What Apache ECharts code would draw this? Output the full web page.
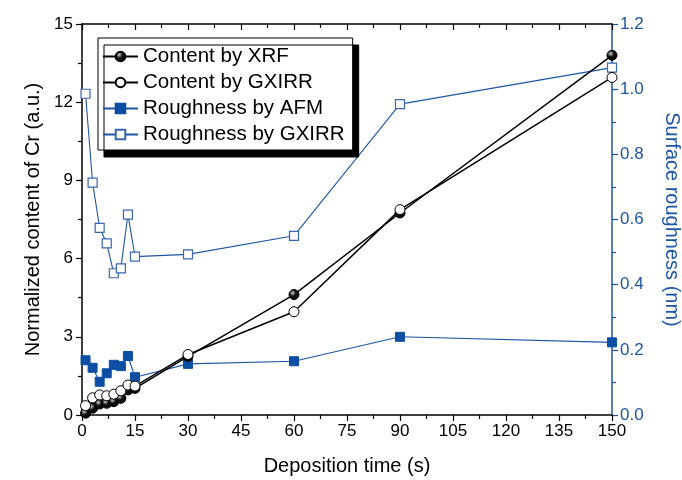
<!DOCTYPE html>
<html>
<head>
<meta charset="utf-8">
<script src="https://cdn.jsdelivr.net/npm/echarts@6/dist/echarts.min.js"></script>
<style>
  html, body { margin: 0; padding: 0; background: #fff; }
  #chart { width: 682px; height: 480px; }
</style>
</head>
<body>
<div id="chart"></div>
<script>
// Deposition times (s)
const times = [1, 3, 5, 7, 9, 11, 13, 15, 30, 60, 90, 150];
// Normalized Cr content (a.u.)
const contentXRF   = [0.07, 0.26, 0.42, 0.45, 0.51, 0.64, 0.96, 1.02, 2.25, 4.62, 7.75, 13.80];
const contentGXIRR = [0.36, 0.66, 0.77, 0.74, 0.80, 0.93, 1.15, 1.11, 2.32, 3.96, 7.88, 12.95];
// Surface roughness (nm)
const roughAFM   = [0.168, 0.145, 0.102, 0.128, 0.154, 0.150, 0.181, 0.116, 0.157, 0.165, 0.240, 0.223];
const roughGXIRR = [0.986, 0.713, 0.574, 0.527, 0.435, 0.450, 0.615, 0.486, 0.493, 0.550, 0.954, 1.066];

const pair = (xs, ys) => xs.map((x, i) => [x, ys[i]]);

const FONT = '"Liberation Sans", Arial, sans-serif';
const BLUE = '#1f55a5';
const MARK_BLUE = '#0b4ea3';

const chart = echarts.init(document.getElementById('chart'), null, { renderer: 'canvas' });

const ballFill = {
  type: 'radial', x: 0.38, y: 0.35, r: 0.65,
  colorStops: [{ offset: 0, color: '#d0d0d0' }, { offset: 0.45, color: '#111' }, { offset: 1, color: '#000' }]
};

chart.setOption({
  animation: false,
  grid: { left: 82, right: 70, top: 24, bottom: 65, containLabel: false, outerBoundsMode: 'none' },
  legend: {
    orient: 'vertical',
    left: 98, top: 38,
    padding: [8, 8, 5, 4],
    itemWidth: 35, itemHeight: 12, itemGap: 5,
    backgroundColor: '#fff',
    borderColor: '#000', borderWidth: 1,
    shadowColor: '#000', shadowBlur: 0, shadowOffsetX: 6, shadowOffsetY: 7,
    textStyle: { fontFamily: FONT, fontSize: 20.5, lineHeight: 20, color: '#000' },
    data: ['Content by XRF', 'Content by GXIRR', 'Roughness by AFM', 'Roughness by GXIRR']
  },
  xAxis: [{
    type: 'value', min: 0, max: 150, interval: 15,
    name: 'Deposition time (s)', nameLocation: 'middle', nameGap: 41,
    nameTextStyle: { fontFamily: FONT, fontSize: 20, color: '#000' },
    axisLine: { onZero: false, lineStyle: { color: '#000', width: 1.5 } },
    axisTick: { inside: false, length: 6, lineStyle: { color: '#000', width: 1.2 } },
    minorTick: { show: true, splitNumber: 2, length: 4, lineStyle: { color: '#000', width: 1.2 } },
    axisLabel: { fontFamily: FONT, fontSize: 17, color: '#000', margin: 8 },
    splitLine: { show: false }
  }, {
    type: 'value', min: 0, max: 150, interval: 15, position: 'top',
    axisLine: { show: true, onZero: false, lineStyle: { color: '#000', width: 1.5 } },
    axisTick: { inside: true, length: 6, lineStyle: { color: '#000', width: 1.2 } },
    minorTick: { show: true, splitNumber: 2, length: 4, lineStyle: { color: '#000', width: 1.2 } },
    axisLabel: { show: false },
    splitLine: { show: false }
  }],
  yAxis: [{
    type: 'value', min: 0, max: 15, interval: 3,
    name: 'Normalized content of Cr (a.u.)', nameLocation: 'middle', nameGap: 35,
    nameTextStyle: { fontFamily: FONT, fontSize: 20, color: '#000' },
    axisLine: { show: true, onZero: false, lineStyle: { color: '#000', width: 1.5 } },
    axisTick: { inside: false, length: 6, lineStyle: { color: '#000', width: 1.2 } },
    minorTick: { show: true, splitNumber: 2, length: 4, lineStyle: { color: '#000', width: 1.2 } },
    axisLabel: { fontFamily: FONT, fontSize: 17, color: '#000', margin: 9 },
    splitLine: { show: false }
  }, {
    type: 'value', min: 0, max: 1.2, interval: 0.2, position: 'right',
    name: 'Surface roughness (nm)', nameLocation: 'middle', nameGap: 50, nameRotate: -90,
    nameTextStyle: { fontFamily: FONT, fontSize: 20, color: BLUE },
    axisLine: { show: true, onZero: false, lineStyle: { color: BLUE, width: 1.5 } },
    axisTick: { inside: false, length: 6, lineStyle: { color: BLUE, width: 1.2 } },
    minorTick: { show: true, splitNumber: 2, length: 4, lineStyle: { color: BLUE, width: 1.2 } },
    axisLabel: { fontFamily: FONT, fontSize: 17, color: BLUE, margin: 8, formatter: v => v.toFixed(1) },
    splitLine: { show: false }
  }],
  series: [{
    name: 'Roughness by GXIRR', type: 'line', yAxisIndex: 1,
    data: pair(times, roughGXIRR),
    symbol: 'rect', symbolSize: 9,
    lineStyle: { color: BLUE, width: 1.1 },
    itemStyle: { color: '#fff', borderColor: '#3b66b0', borderWidth: 1.2 }
  }, {
    name: 'Roughness by AFM', type: 'line', yAxisIndex: 1,
    data: pair(times, roughAFM),
    symbol: 'rect', symbolSize: 9,
    lineStyle: { color: BLUE, width: 1.1 },
    itemStyle: { color: MARK_BLUE, borderColor: MARK_BLUE, borderWidth: 1 }
  }, {
    name: 'Content by XRF', type: 'line', yAxisIndex: 0,
    data: pair(times, contentXRF),
    symbol: 'circle', symbolSize: 10,
    lineStyle: { color: '#000', width: 1.5 },
    itemStyle: { color: ballFill, borderColor: '#000', borderWidth: 1 }
  }, {
    name: 'Content by GXIRR', type: 'line', yAxisIndex: 0,
    data: pair(times, contentGXIRR),
    symbol: 'circle', symbolSize: 10,
    lineStyle: { color: '#000', width: 1.5 },
    itemStyle: { color: '#fff', borderColor: '#000', borderWidth: 1 }
  }]
});
</script>
</body>
</html>
